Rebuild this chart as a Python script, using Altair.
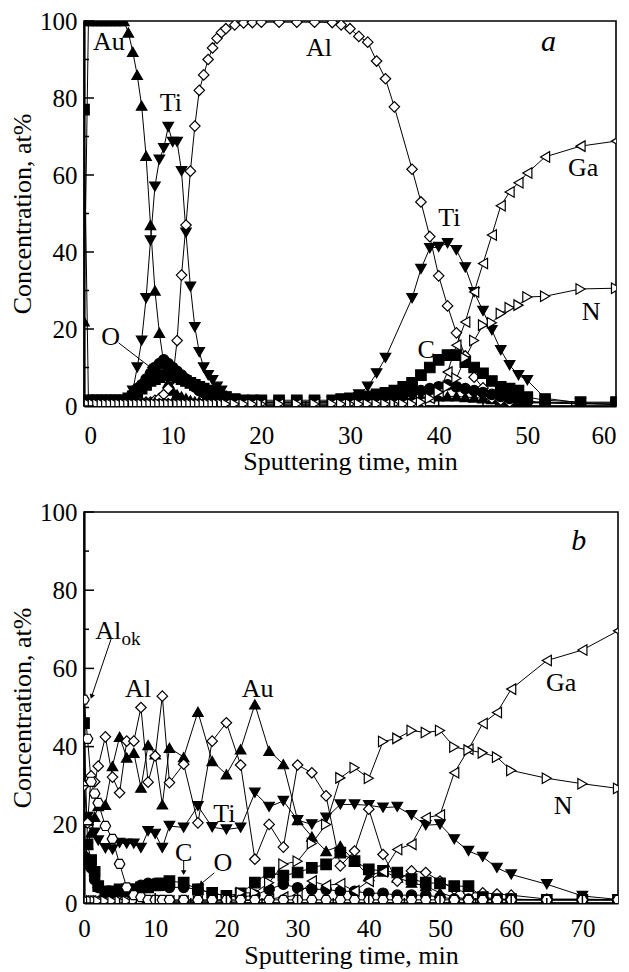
import altair as alt
import pandas as pd

FONT = "Liberation Serif"

# ---------------- Panel a ----------------
grid_a = [0, 0.5, 1, 1.5, 2, 2.5, 3, 3.5, 4, 4.5, 5, 5.5, 6, 6.5, 7, 7.5, 8, 8.5,
          9, 9.5, 10, 10.5, 11, 11.5, 12, 12.5, 13, 13.5, 14, 14.5, 15, 15.5, 16,
          17, 18, 19, 20, 22, 24, 26, 28, 29, 30, 31, 32, 33, 34, 35, 36, 37, 38,
          39, 40, 41, 42, 43, 44, 45, 46, 47, 48, 49, 50, 52, 56, 60]

au_a = [22, 100, 100, 100, 100, 100, 100, 100, 100, 100, 97, 92, 86, 78, 65, 47, 30, 19,
        11, 6, 4, 3, 2.5, 2, 1.5, 1.2, 1.2, 1.2, 1.2, 1.2, 1.2, 1.2, 1.2,
        1, 1, 1, 1, 1, 1, 1, 1, 1, 1, 1, 1, 1, 1.2, 1.5, 1.8, 2, 2.2,
        2.3, 2.5, 2.5, 2.5, 2.3, 2.2, 2, 1.8, 1.5, 1.2, 1, 1, 0.8, 0.6, 0.5]

ti_a = [0.5, 1, 1, 1, 1, 1, 1, 1, 1, 1, 1.5, 4, 10, 17, 28, 43, 57, 64,
        67, 72.5, 68.6, 68.6, 61, 45, 31, 20.5, 14, 10, 8, 6.7, 5, 4, 2.5,
        1.8, 1.3, 1, 1, 1, 1, 1, 1.2, 1.5, 2, 3, 5, 8.5, 12.5, None, None, 28, 35.6,
        41, 41.3, 42.3, 40.5, 36, 29.6, 24.7, 19.7, 14.5, 10.6, 8, 6.7, 2, 0.8, 0.3]

al_a = [0.5, 1, 1, 1, 1, 1, 1, 1, 1, 1, 1, 1, 1, 1, 1, 1, 1.5, 2,
        3, 4.5, 7, 17, 34, 47, 61, 72.7, 82, 86, 90, 93, 95.5, 97, 98,
        99, 99.5, 99.6, 99.7, 99.7, 99.7, 99.7, 99.6, 99, 98, 96, 94.5, 89.6, 85, 77.7, None, 61.5, 53,
        44, 33.8, 26, 19, 13, 7.5, 4.7, 2, 1.5, 1, 1, 0.8, 0.8, 0.6, 0.5]

o_a = [1, 1, 1, 1, 1, 1, 1, 1, 1, 1, 2, 3, 4.5, 5.5, 7, 8.5, 10, 11,
       12, 11, 10, 9, 8, 7, 6, 5, 4, 3.5, 3, 2.5, 2, 1.8, 1.5,
       1.2, 1, 1, 1, 1, 1, 1, 1, 1, 1, 1.2, 1.5, 1.8, 2, 2.5, 3, 3.5, 4,
       4.5, 5, 5.5, 5, 4.5, 4, 3.5, 3, 2.5, 2, 1.5, 1.2, 1, 0.8, 0.8]

c_a = [77, 1.5, 1.5, 1.5, 1.5, 1.5, 1.5, 1.5, 1.5, 1.5, 2, 2.5, 3.5, 4.5, 5.5, 6.5, 7, 7.5,
       8, 8.5, 8, 7.5, 7, 6.5, 6, 5.5, 5, 4.5, 4, 3.5, 3, 2.5, 2.2,
       1.8, 1.5, 1.5, 1.5, 1.5, 1.5, 1.5, 1.5, 1.8, 2, 2.2, 2.5, 3, 3.4, 4, 5, 6, 8,
       10, 12, 13.2, 13.2, 11.4, 10, 8.5, 6.5, 5, 4.5, 4, 2.3, 1.5, 1, 1]

ga_a = [0.5] * 49 + [0.8, 1, 2, 3.4, 8.8, 15.8, 21.8, 29.6, 37, 44.4, 52, 55.6, 58, 60.5, 64.7, 67.5, 68.8]

n_a = [0.5] * 50 + [1, 2, 3.6, 5, 7.2, 12.5, 17, 21, 21.6, 24, 25.5, 26.2, 28.3, 28.5, 30.4, 30.6]

# ---------------- Panel b ----------------
grid_b = [0, 0.5, 1, 1.5, 2, 3, 4, 5, 6, 7, 8, 9, 10, 11, 12, 14, 16, 18, 20, 22, 24, 26,
          28, 30, 32, 34, 36, 38, 40, 42, 44, 46, 48, 50, 52, 54, 56, 58, 60, 65, 70, 75]

al_b = [30, 20.5, 32.5, 31, 35, 42.5, 32.2, 28.2, 41.4, 41.4, 50, 30.9, 37.6, 52.9, 30.8,
        35.5, 20.5, 41.4, 46.1, 35.3, 11.2, 20.1, 14.3, 35.3, 33.3, 27.4, 9.5, 13.3, 24, 12.4,
        5.6, 8.2, 7.8, 5.6, 3.5, 2.6, 2.6, 2.3, 2, 1, 1, 0.8]

au_b = [10, 15, 18, 22, 24.8, 25.1, 35, 42.5, 37.2, 38.4, 29.5, 40.4, 38, 25.2, 39.7,
        37.3, 48.9, 36.3, 32.9, 39.3, 50.8, 38.9, 35.5, 21.2, 17, 13.3, 14.6, 10.7, 6.9, 8.2,
        6.5, 5.2, 4.3, 2.6, 1.5, 1, 1, 1, 0.8, 0.8, 0.8, 0.8]

ti_b = [20, 22, 21, 18, 16, 14, 13.7, 15.4, 15.2, 15.2, 14.1, 18.4, 17.7, 14.1, 19.7,
        19.3, 24.8, 19.4, 18.8, 19.3, 28.2, 24.6, 26.1, 21.2, 20.1, 21.8, 25.2, 25.2, 25, 24.4,
        24.6, 22.5, 19.9, 20.1, 16.3, 13.3, 11.8, 9, 7.3, 4.8, 1.8, 0.9]

ga_b = [0.5] * 20 + [0.8, 1, 1.5, 2, 5.6, 4.5, 4.9, 3.1, 5.6, 8,
                     13.7, 15, 21.8, 22.5, 33.3, 39.3, 45.9, 48.7, 54.7, 62, 64.7, 69.6]

n_b = [0.5] * 18 + [1, 2.6, 2.6, 5.2, 9.9, 10.7, 15.2, 20.1, 32, 34.6, 31.9, 41.3,
                    42.1, 44.1, 43.6, 44.1, 39.9, 39.1, 38.4, 37.3, 33.9, 31.9, 30.5, 29.3]

c_b = [46, 15, 11, 8, 4.3, 3, 3, 3.5, 3.5, 3.5, 4, 4, 4.5, 5, 5.6,
       5.2, 3.5, 2.6, 1.8, 2.5, 5.2, 7.8, 7, 7.8, 9, 9.9, 12.9, 10.7, 8.6, 8.2,
       7.8, 6.1, 5.2, 5, 4.3, 4.3, 1.5, 1, 1, 0.8, 0.8, 0.8]

o_b = [12, 10, 9, 6, 4, 2.5, 2.5, 3, 3, 3.5, 4.5, 5, 5, 4.5, 4,
       4, 3.5, 2.5, 1.8, 1.5, 2, 3.5, 4.8, 3.9, 3.5, 3.5, 3, 3, 2.5, 2.5,
       2, 2, 2, 1.5, 1, 1, 1, 0.8, 0.8, 0.8, 0.8, 0.8]

alok_b = [52, 42, 31, 28, 25.6, 19.7, 16.4, 10, 4, 2, 1.5] + [0.8] * 31

# ---------------- annotations ----------------
labels_a = pd.DataFrame({
    "t": [2.8, 9.8, 26.5, 41.2, 56.3, 57.2, 38.6, 3.0],
    "c": [94.5, 78.7, 93, 48.8, 61.8, 24.4, 14.5, 18],
    "label": ["Au", "Ti", "Al", "Ti", "Ga", "N", "C", "O"],
})
labels_b = pd.DataFrame({
    "t": [3.4, 7.6, 24.4, 19.7, 67, 67.3, 14.0, 19.5],
    "c": [69.6, 54.7, 54.7, 22.8, 56.3, 24.8, 12.8, 10.2],
    "label": ["Al", "Al", "Au", "Ti", "Ga", "N", "C", "O"],
})
sub_b = pd.DataFrame({"t": [6.6], "c": [67.6], "label": ["ok"]})

arrows_a = pd.DataFrame({"t": [3.9], "c": [16.4], "t2": [7.4], "c2": [10.2], "ang": [127]})
arrows_b = pd.DataFrame({
    "t": [3.8, 14.0, 18.3], "c": [67.5, 11.0, 7.7],
    "t2": [1.1, 14.0, 16.5], "c2": [53.0, 8.0, 5.0], "ang": [199, 180, 230],
})

SERIES = ["Au", "Ti", "Al", "O", "C", "Ga", "N", "Alok"]
HEX = "M-1,0L-0.5,-0.866L0.5,-0.866L1,0L0.5,0.866L-0.5,0.866Z"
SHAPES = ["triangle-up", "triangle-down", "diamond", "circle", "square",
          "triangle-left", "triangle-right", HEX]
FILLS = ["black", "black", "white", "black", "black", "white", "white", "white"]

AXIS_STYLE = dict(ticks=False, grid=False, labelFont=FONT, titleFont=FONT,
                  labelFontSize=25, titleFontSize=26, titleFontWeight="normal",
                  labelColor="black", titleColor="black", domainColor="black",
                  domainWidth=2.2)


def long_df(grid, series):
    rows = []
    for name, vals in series.items():
        for t, v in zip(grid, vals):
            if v is not None:
                rows.append({"t": t, "c": v, "s": name})
    return pd.DataFrame(rows)


def panel(df, xmax, w, h, labels, arrows, letter, lab_pad, title_pad, flush, sub=None):
    xs = alt.Scale(domain=[0, xmax], nice=False, zero=False)
    ys = alt.Scale(domain=[0, 100], nice=False, zero=False)
    xax = alt.Axis(values=list(range(0, xmax + 1, 10)), title="Sputtering time, min",
                   labelFlush=flush, labelPadding=lab_pad, titlePadding=title_pad,
                   format="d", **AXIS_STYLE)
    yax = alt.Axis(values=list(range(0, 101, 20)), title="Concentration, at%",
                   labelPadding=7, titlePadding=4, **AXIS_STYLE)

    def X(f="t"):
        return alt.X(f + ":Q", scale=xs, axis=xax, title="Sputtering time, min")

    def Y(f="c"):
        return alt.Y(f + ":Q", scale=ys, axis=yax, title="Concentration, at%")

    base = alt.Chart(df)
    lines = base.mark_line(color="black", strokeWidth=1, clip=True).encode(
        x=X(), y=Y(), detail="s:N")
    pts = base.mark_point(filled=True, stroke="black", strokeWidth=1.2, size=110,
                          opacity=1, clip=True).encode(
        x=X(), y=Y(),
        shape=alt.Shape("s:N", scale=alt.Scale(domain=SERIES, range=SHAPES), legend=None),
        fill=alt.Fill("s:N", scale=alt.Scale(domain=SERIES, range=FILLS), legend=None))
    # inward ticks
    yt_major = pd.DataFrame({"c": list(range(0, 101, 20))})
    yt_minor = pd.DataFrame({"c": list(range(10, 100, 20))})
    xt_major = pd.DataFrame({"t": list(range(0, xmax + 1, 10))})
    xt_minor = pd.DataFrame({"t": list(range(5, xmax, 10))})
    ytick1 = alt.Chart(yt_major).mark_rule(color="black", strokeWidth=1.5).encode(
        y=Y(), x=alt.value(0), x2=alt.value(10))
    ytick2 = alt.Chart(yt_minor).mark_rule(color="black", strokeWidth=1.5).encode(
        y=Y(), x=alt.value(0), x2=alt.value(5))
    xtick1 = alt.Chart(xt_major).mark_rule(color="black", strokeWidth=1.5).encode(
        x=X(), y=alt.value(h), y2=alt.value(h - 10))
    xtick2 = alt.Chart(xt_minor).mark_rule(color="black", strokeWidth=1.5).encode(
        x=X(), y=alt.value(h), y2=alt.value(h - 5))
    txt = alt.Chart(labels).mark_text(font=FONT, fontSize=26, color="black").encode(
        x=X(), y=Y(), text="label:N")
    arr = alt.Chart(arrows).mark_rule(color="black", strokeWidth=1).encode(
        x=X(), y=Y(), x2="t2:Q", y2="c2:Q")
    heads = alt.Chart(arrows).mark_point(shape="triangle", filled=True, color="black",
                                         size=30, opacity=1).encode(
        x=X("t2"), y=Y("c2"), angle=alt.Angle("ang:Q", scale=None))
    let = alt.Chart(pd.DataFrame({"t": [letter[1]], "c": [letter[2]], "label": [letter[0]]})
                    ).mark_text(font=FONT, fontSize=30, fontStyle="italic", color="black").encode(
        x=X(), y=Y(), text="label:N")
    layers = [lines, pts, ytick1, ytick2, xtick1, xtick2, txt, arr, heads, let]
    if sub is not None:
        layers.append(alt.Chart(sub).mark_text(font=FONT, fontSize=19, color="black").encode(
            x=X(), y=Y(), text="label:N"))
    return alt.layer(*layers).properties(width=w, height=h)


df_a = long_df(grid_a, {"Au": au_a, "Ti": ti_a, "Al": al_a, "O": o_a, "C": c_a,
                        "Ga": ga_a, "N": n_a})
df_b = long_df(grid_b, {"Au": au_b, "Ti": ti_b, "Al": al_b, "O": o_b, "C": c_b,
                        "Ga": ga_b, "N": n_b, "Alok": alok_b})

chart_a = panel(df_a, 60, 532, 385, labels_a, arrows_a, ("a", 52.4, 94.5),
                lab_pad=17, title_pad=0, flush=True)
chart_b = panel(df_b, 75, 534, 391, labels_b, arrows_b, ("b", 69.5, 92.6),
                lab_pad=13, title_pad=1, flush=False, sub=sub_b)

chart = alt.vconcat(chart_a, chart_b, spacing=24).properties(
    padding={"left": 0, "top": 0, "right": 0, "bottom": 0},
    background="white"
).configure_view(stroke="black", strokeWidth=1.6)

chart.save("out.html", embed_options={"renderer": "svg", "actions": False})
